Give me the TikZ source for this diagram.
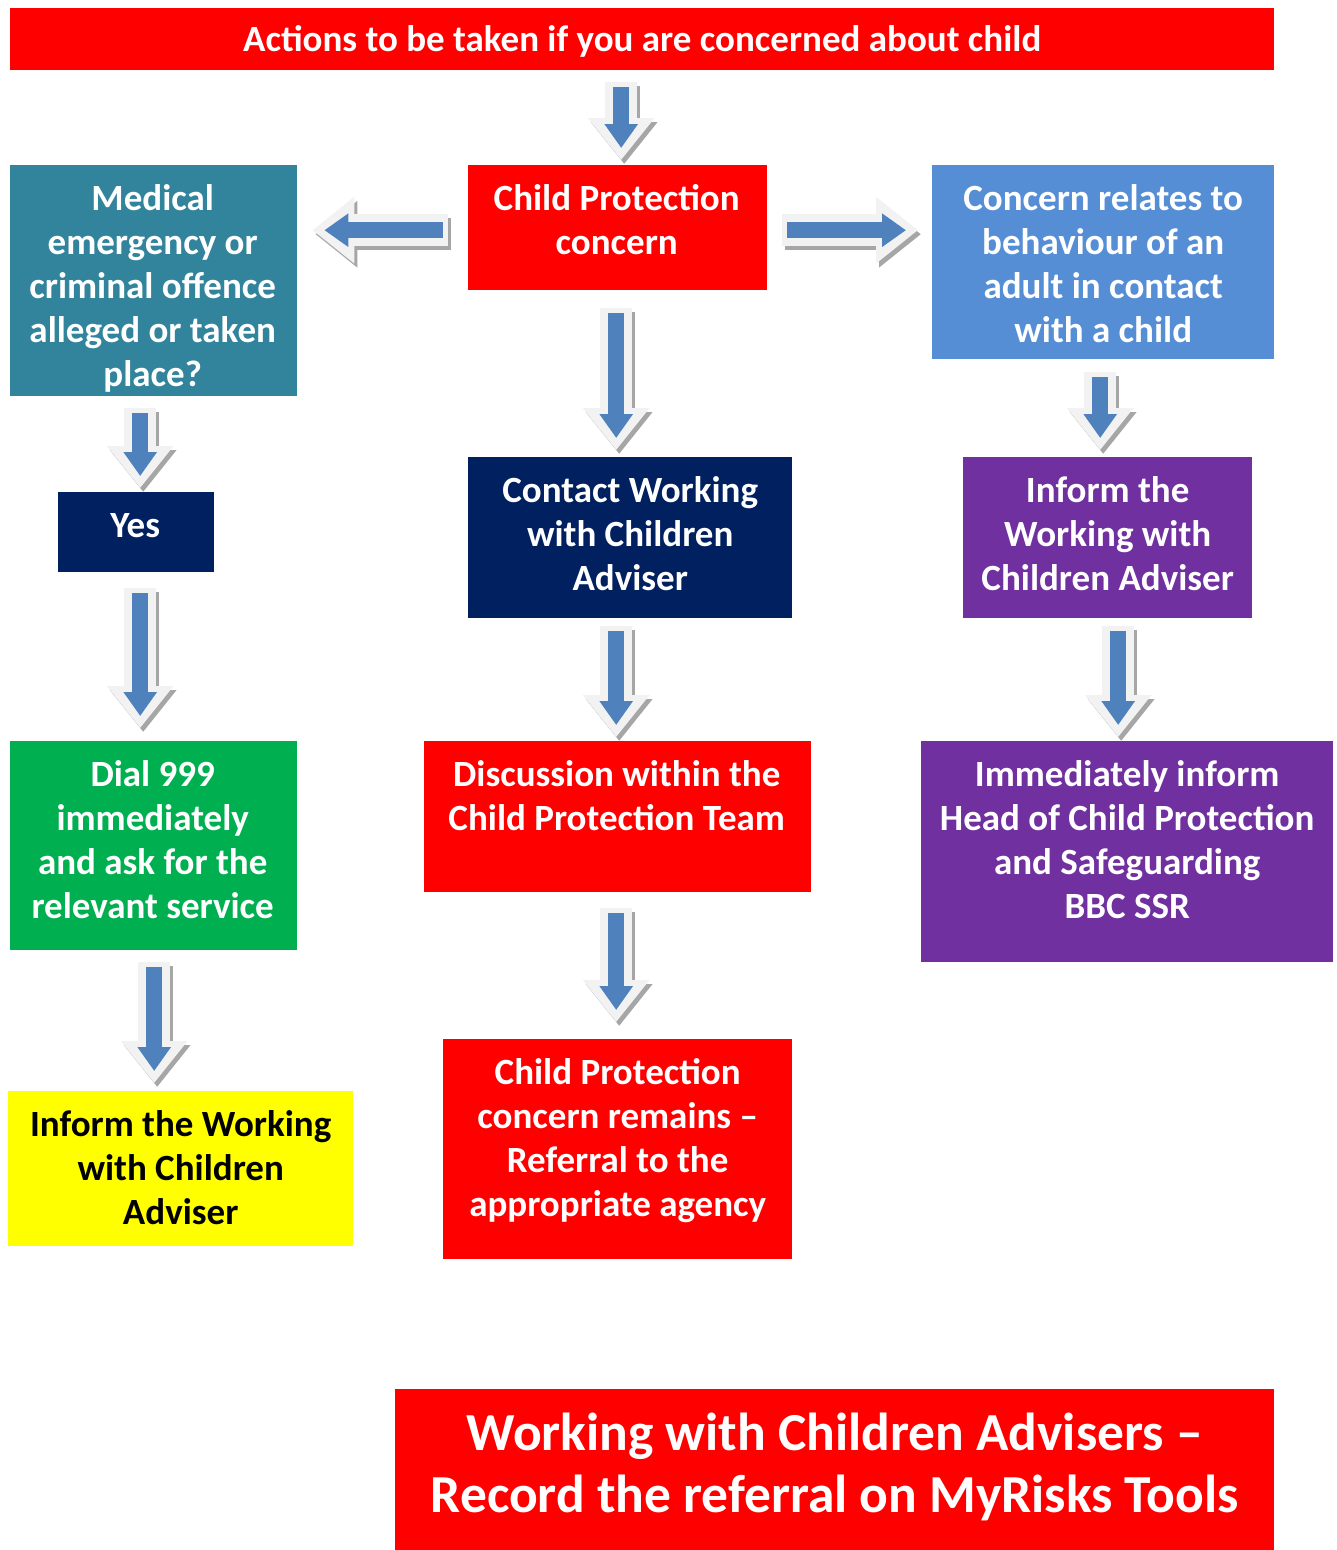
\documentclass[tikz,border=0pt]{standalone}
\usepackage{fontspec}
\setmainfont{Carlito}
\usetikzlibrary{arrows.meta,calc}
\definecolor{cred}{HTML}{FF0000}
\definecolor{cteal}{HTML}{31849B}
\definecolor{ccorn}{HTML}{558ED5}
\definecolor{cnavy}{HTML}{002060}
\definecolor{cpurple}{HTML}{7030A0}
\definecolor{cgreen}{HTML}{00B050}
\definecolor{cyellow}{HTML}{FFFF00}
\definecolor{arrowblue}{HTML}{4F81BD}
\tikzset{
  box/.style={fill=#1, draw=none, inner sep=0pt, anchor=north west},
  txt/.style={text=white, font=\fontsize{37}{44}\selectfont\bfseries, align=center,
    inner sep=0pt, anchor=north},
  bigtxt/.style={txt, font=\fontsize{53.5}{62}\selectfont\bfseries},
  shadowA/.style={line width=32pt, color=black!35, -{Triangle[width=64pt,length=42pt]}},
  outerA/.style={line width=32pt, color=black!5, -{Triangle[width=64pt,length=42pt]}},
  innerA/.style={line width=16pt, color=arrowblue, -{Triangle[width=32pt,length=24pt]},
    shorten <=5pt, shorten >=12pt},
}
\newcommand\barrow[2]{%
  \draw[shadowA] ($(#1)+(3,4)$) -- ($(#2)+(3,4)$);
  \draw[outerA] (#1) -- (#2);
  \draw[innerA] (#1) -- (#2);}
\begin{document}
\begin{tikzpicture}[x=1pt,y=-1pt]
\useasboundingbox[fill=white] (0,0) rectangle (1337,1550);
% boxes
\node[box=cred, minimum width=1264pt, minimum height=62pt] (title) at (10,8) {};
\node[box=cred, minimum width=299pt, minimum height=125pt] (cpc) at (468,165) {};
\node[box=cteal, minimum width=287pt, minimum height=231pt] (med) at (10,165) {};
\node[box=ccorn, minimum width=342pt, minimum height=194pt] (conc) at (932,165) {};
\node[box=cnavy, minimum width=156pt, minimum height=80pt] (yes) at (58,492) {};
\node[box=cnavy, minimum width=324pt, minimum height=161pt] (contact) at (468,457) {};
\node[box=cpurple, minimum width=289pt, minimum height=161pt] (infp) at (963,457) {};
\node[box=cgreen, minimum width=287pt, minimum height=209pt] (dial) at (10,741) {};
\node[box=cred, minimum width=387pt, minimum height=151pt] (disc) at (424,741) {};
\node[box=cpurple, minimum width=412pt, minimum height=221pt] (imm) at (921,741) {};
\node[box=cyellow, minimum width=345pt, minimum height=155pt] (infy) at (8,1091) {};
\node[box=cred, minimum width=349pt, minimum height=220pt] (rem) at (443,1039) {};
\node[box=cred, minimum width=879pt, minimum height=161pt] (rec) at (395,1389) {};
% texts
\node[txt] (title-t) at ($(title.north)+(0,12)$) {\strut Actions to be taken if you are concerned about child};
\node[txt] (cpc-t) at ($(cpc.north)+(-1,14)$) {\strut Child Protection\\concern};
\node[txt] (med-t) at ($(med.north)+(-1,14)$) {\strut Medical\\emergency or\\criminal offence\\alleged or taken\\place?};
\node[txt] (conc-t) at ($(conc.north)+(0,14)$) {\strut Concern relates to\\behaviour of an\\adult in contact\\with a child};
\node[txt] (yes-t) at ($(yes.north)+(-1,14)$) {\strut Yes};
\node[txt] (contact-t) at ($(contact.north)+(0,14)$) {\strut Contact Working\\with Children\\Adviser};
\node[txt] (infp-t) at ($(infp.north)+(0,14)$) {\strut Inform the\\Working with\\Children Adviser};
\node[txt] (dial-t) at ($(dial.north)+(-1,14)$) {\strut Dial 999\\immediately\\and ask for the\\relevant service};
\node[txt] (disc-t) at ($(disc.north)+(-1,14)$) {\strut Discussion within the\\Child Protection Team};
\node[txt] (imm-t) at ($(imm.north)+(0,14)$) {\strut Immediately inform\\Head of Child Protection\\and Safeguarding\\BBC SSR};
\node[txt, text=black] (infy-t) at ($(infy.north)+(0,14)$) {\strut Inform the Working\\with Children\\Adviser};
\node[txt] (rem-t) at ($(rem.north)+(0,14)$) {\strut Child Protection\\concern remains --\\Referral to the\\appropriate agency};
\node[bigtxt] (rec-t) at ($(rec.north)+(0,18)$) {\strut Working with Children Advisers --\\Record the referral on MyRisks Tools};
% arrow end points
\coordinate (a1s) at ($(cpc.north |- title.south)+(3.5,12)$);
\coordinate (a1e) at ($(cpc.north)+(3.5,-5)$);
\coordinate (a2s) at ($(cpc.south)+(-1.5,18)$);
\coordinate (a2e) at ($(contact.north -| cpc.south)+(-1.5,-7)$);
\coordinate (a3s) at ($(contact.south -| disc.north)+(-1.5,8)$);
\coordinate (a3e) at ($(disc.north)+(-1.5,-4)$);
\coordinate (a4s) at ($(disc.south)+(-1.5,16)$);
\coordinate (a4e) at ($(rem.north -| disc.south)+(-1.5,-17)$);
\coordinate (a5s) at ($(cpc.west)+(-20,2.5)$);
\coordinate (a5e) at ($(med.east |- cpc.west)+(15,2.5)$);
\coordinate (a6s) at ($(cpc.east)+(15,2.5)$);
\coordinate (a6e) at ($(conc.west |- cpc.east)+(-14,2.5)$);
\coordinate (a7s) at ($(med.south)+(-13.5,12)$);
\coordinate (a7e) at ($(yes.north -| med.south)+(-13.5,-4)$);
\coordinate (a8s) at ($(yes.south)+(4,16)$);
\coordinate (a8e) at ($(dial.north -| yes.south)+(4,-13)$);
\coordinate (a9s) at ($(dial.south)+(0.5,12)$);
\coordinate (a9e) at ($(infy.north -| dial.south)+(0.5,-8)$);
\coordinate (a10s) at ($(conc.south)+(-3,13)$);
\coordinate (a10e) at ($(infp.north -| conc.south)+(-3,-7)$);
\coordinate (a11s) at ($(infp.south)+(10.5,8)$);
\coordinate (a11e) at ($(imm.north -| infp.south)+(10.5,-4)$);
% block arrows
\barrow{a1s}{a1e}
\barrow{a2s}{a2e}
\barrow{a3s}{a3e}
\barrow{a4s}{a4e}
\barrow{a5s}{a5e}
\barrow{a6s}{a6e}
\barrow{a7s}{a7e}
\barrow{a8s}{a8e}
\barrow{a9s}{a9e}
\barrow{a10s}{a10e}
\barrow{a11s}{a11e}
\end{tikzpicture}
\end{document}
